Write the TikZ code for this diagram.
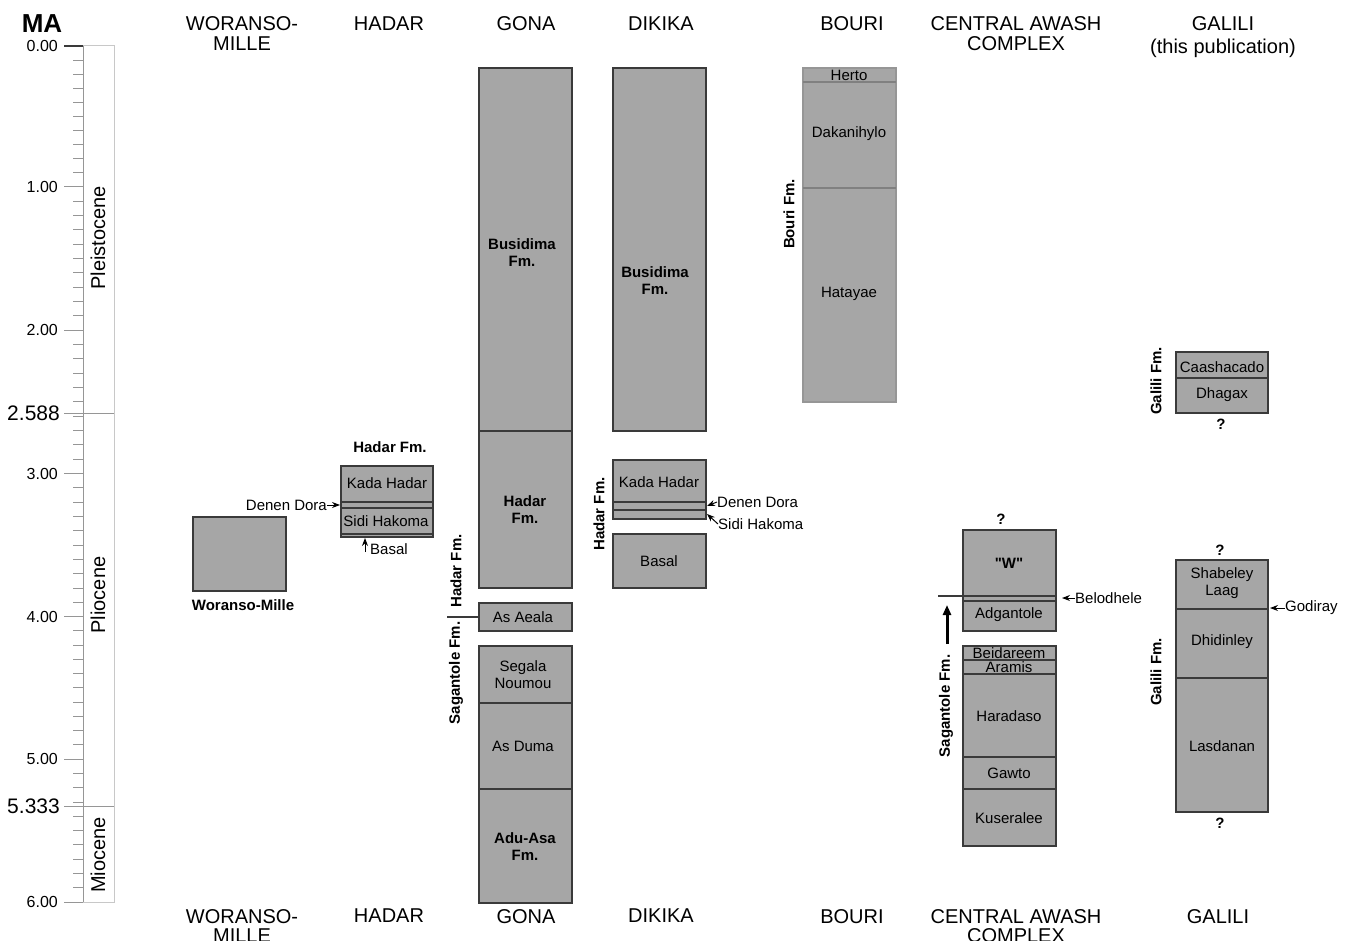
\documentclass[tikz,border=0pt]{standalone}
\usepackage{fontspec}
\setmainfont{Liberation Sans}[Ligatures=TeXOff]
\usetikzlibrary{arrows.meta}

\definecolor{unitfill}{RGB}{166,166,166}
\definecolor{unitline}{RGB}{58,58,58}
\definecolor{axisgray}{RGB}{150,150,150}
\definecolor{boxgray}{RGB}{200,200,200}

\tikzset{
	unit/.style={fill=unitfill, draw=unitline, line width=1.2pt},
	bed/.style={draw=unitline, line width=1.2pt},
	lbl/.style={font=\fontsize{15}{17}\selectfont, align=center, inner sep=0pt},
	boldlbl/.style={font=\fontsize{15}{17}\selectfont\bfseries, align=center, inner sep=0pt},
	fmlbl/.style={boldlbl, rotate=90},
	head/.style={font=\fontsize{20}{19.5}\selectfont, align=center, inner sep=0pt},
	ticklbl/.style={font=\fontsize{16}{16}\selectfont, anchor=east, inner sep=0pt},
	pointer/.style={-{Stealth[length=8pt,width=6pt]}, line width=1pt},
}

\begin{document}
\begin{tikzpicture}[x=1pt, y=-1pt]
	\useasboundingbox (0,0) rectangle (1354,941);

	% time axis
	\node[font=\fontsize{26}{26}\selectfont\bfseries, inner sep=0pt] (ma) at (42,24) {MA};
	\draw[boxgray, line width=1pt] (83,46) rectangle (114,902);
	\draw[axisgray, line width=1pt] (83,46) -- (83,902);
	\foreach \ya/\yb in {46/187, 187/330, 330/473.5, 473.5/616.5, 616.5/759, 759/902}
		\foreach \k in {1,...,9}
			\draw[axisgray, line width=0.8pt] (73,{\ya+(\yb-\ya)*\k/10}) -- (83,{\ya+(\yb-\ya)*\k/10});
	\foreach \y/\t [count=\i] in {46/0.00, 187/1.00, 330/2.00, 473.5/3.00, 616.5/4.00, 759/5.00, 902/6.00} {
		\draw[axisgray, line width=1pt] (64,\y) -- (83,\y);
		\node[ticklbl] (tick\i) at (58,\y) {\t};
	}
	\draw[unitline, line width=1.2pt] (64,46) -- (83,46);
	\draw[axisgray, line width=1.2pt] (64,413.5) -- (114,413.5);
	\draw[axisgray, line width=1.2pt] (64,806.5) -- (114,806.5);
	\node[ticklbl, font=\fontsize{21}{21}\selectfont] (tpl) at (60,413.5) {2.588};
	\node[ticklbl, font=\fontsize{21}{21}\selectfont] (tmi) at (60,806.5) {5.333};
	\node[head, rotate=90] (pleist) at (98,238) {Pleistocene};
	\node[head, rotate=90] (plio) at (98,595) {Pliocene};
	\node[head, rotate=90] (mio) at (98,855) {Miocene};

	% column headers
	\foreach \x/\t [count=\i] in {242/{WORANSO-\\MILLE}, 389/HADAR, 526/GONA, 661/DIKIKA, 852/BOURI, 1016/{CENTRAL AWASH\\COMPLEX}} {
		\node[head, anchor=north] (top\i) at (\x,16.5) {\t};
		\node[head, anchor=north] (bot\i) at (\x,909) {\t};
	}
	\node[head, anchor=north] (topgal) at (1223,16.5) {GALILI\\[3pt](this publication)};
	\node[head, anchor=north] (botgal) at (1218,909) {GALILI};

	% Woranso-Mille
	\filldraw[unit] (193,517) rectangle (286,591);
	\node[boldlbl] (wm) at (243,605) {Woranso-Mille};

	% Hadar
	\filldraw[unit] (341,466) rectangle (433,537);
	\draw[bed] (341,502) -- (433,502);
	\draw[bed] (341,508) -- (433,508);
	\draw[bed] (341,534) -- (433,534);
	\node[boldlbl] (hfm) at (390,447) {Hadar Fm.};
	\node[lbl] (hkh) at (387,483) {Kada Hadar};
	\node[lbl] (hsh) at (386,521) {Sidi Hakoma};
	\node[lbl, anchor=east] (hdd) at (327,505) {Denen Dora};
	\coordinate (hddtip) at (340,505);
	\draw[pointer] (hdd.east) -- (hddtip);
	\node[lbl, anchor=west] (hbas) at (370,549) {Basal};
	\coordinate (hbasfoot) at (365,552);
	\coordinate (hbastip) at (365,538);
	\draw[pointer] (hbasfoot) -- (hbastip);

	% Gona
	\filldraw[unit] (479,68) rectangle (572,588);
	\draw[bed] (479,431) -- (572,431);
	\filldraw[unit] (479,603) rectangle (572,631);
	\filldraw[unit] (479,646) rectangle (572,903);
	\draw[bed] (479,703) -- (572,703);
	\draw[bed] (479,789) -- (572,789);
	\node[boldlbl] (gbus) at (522,253) {Busidima\\Fm.};
	\node[boldlbl] (ghad) at (525,510) {Hadar\\Fm.};
	\node[lbl] (gaa) at (523,617) {As Aeala};
	\node[lbl] (gsn) at (523,675) {Segala\\Noumou};
	\node[lbl] (gad) at (523,746) {As Duma};
	\node[boldlbl] (gada) at (525,847) {Adu-Asa\\Fm.};
	\node[fmlbl] (ghfm) at (456,571) {Hadar Fm.};
	\node[fmlbl] (gsfm) at (456,673) {Sagantole Fm.};
	\draw[bed] (447,617) -- (479,617);

	% Dikika
	\filldraw[unit] (613,68) rectangle (706,431);
	\filldraw[unit] (613,460) rectangle (706,519);
	\draw[bed] (613,502) -- (706,502);
	\draw[bed] (613,510) -- (706,510);
	\filldraw[unit] (613,534) rectangle (706,588);
	\node[boldlbl] (dbus) at (655,281) {Busidima\\Fm.};
	\node[lbl] (dkh) at (659,482) {Kada Hadar};
	\node[lbl] (dbas) at (659,561) {Basal};
	\node[fmlbl] (dhfm) at (599,514) {Hadar Fm.};
	\node[lbl, anchor=west] (ddd) at (717,502) {Denen Dora};
	\coordinate (dddtip) at (707,506);
	\draw[pointer] (ddd.west) -- (dddtip);
	\node[lbl, anchor=west] (dsh) at (718,524) {Sidi Hakoma};
	\coordinate (dshtip) at (707,514);
	\draw[pointer] (dsh.west) -- (dshtip);

	% Bouri
	\filldraw[unit, draw=axisgray] (803,68) rectangle (896,402);
	\draw[bed, draw=gray] (803,82) -- (896,82);
	\draw[bed, draw=gray] (803,188) -- (896,188);
	\node[lbl] (bher) at (849,75) {Herto};
	\node[lbl] (bdak) at (849,134) {Dakanihylo};
	\node[lbl] (bhat) at (849,294) {Hatayae};
	\node[fmlbl] (bfm) at (789,214) {Bouri Fm.};

	% Central Awash Complex
	\filldraw[unit] (963,530) rectangle (1056,631);
	\draw[bed] (963,596) -- (1056,596);
	\draw[bed] (963,601) -- (1056,601);
	\node[boldlbl] (cw) at (1009,563) {"W"};
	\node[boldlbl] (cq) at (1001,519) {?};
	\node[lbl] (cadg) at (1009,615) {Adgantole};
	\node[lbl, anchor=west] (cbel) at (1075,598) {Belodhele};
	\coordinate (cbeltip) at (1062,598);
	\draw[pointer] (cbel.west) -- (cbeltip);
	\coordinate (cbase) at (938,596);
	\draw[bed] (cbase) -- (963,596);
	\coordinate (cup0) at (947,644);
	\coordinate (cup1) at (947,605);
	\draw[-{Triangle[length=10pt,width=8pt]}, line width=3pt] (cup0) -- (cup1);
	\filldraw[unit] (963,646) rectangle (1056,846);
	\foreach \y in {660, 674, 757, 789}
		\draw[bed] (963,\y) -- (1056,\y);
	\node[lbl] (cbei) at (1009,653) {Beidareem};
	\node[lbl] (cara) at (1009,667) {Aramis};
	\node[lbl] (char) at (1009,716) {Haradaso};
	\node[lbl] (cgaw) at (1009,773) {Gawto};
	\node[lbl] (ckus) at (1009,818) {Kuseralee};
	\node[fmlbl] (csfm) at (946,706) {Sagantole Fm.};

	% Galili
	\filldraw[unit] (1176,352) rectangle (1268,413);
	\draw[bed] (1176,378) -- (1268,378);
	\node[lbl] (gcaa) at (1222,367) {Caashacado};
	\node[lbl] (gdha) at (1222,395) {Dhagax};
	\node[boldlbl] (gq1) at (1221,424) {?};
	\node[fmlbl] (gfm1) at (1156,381) {Galili Fm.};
	\filldraw[unit] (1176,560) rectangle (1268,812);
	\draw[bed] (1176,609) -- (1268,609);
	\draw[bed] (1176,678) -- (1268,678);
	\node[boldlbl] (gq2) at (1220,550) {?};
	\node[lbl] (gsha) at (1222,583) {Shabeley\\Laag};
	\node[lbl] (gdhi) at (1222,642) {Dhidinley};
	\node[lbl] (glas) at (1222,746) {Lasdanan};
	\node[boldlbl] (gq3) at (1220,823) {?};
	\node[fmlbl] (gfm2) at (1156,672) {Galili Fm.};
	\node[lbl, anchor=west] (ggod) at (1285,608) {Godiray};
	\coordinate (ggodtip) at (1270,608);
	\draw[pointer] (ggod.west) -- (ggodtip);
\end{tikzpicture}
\end{document}
